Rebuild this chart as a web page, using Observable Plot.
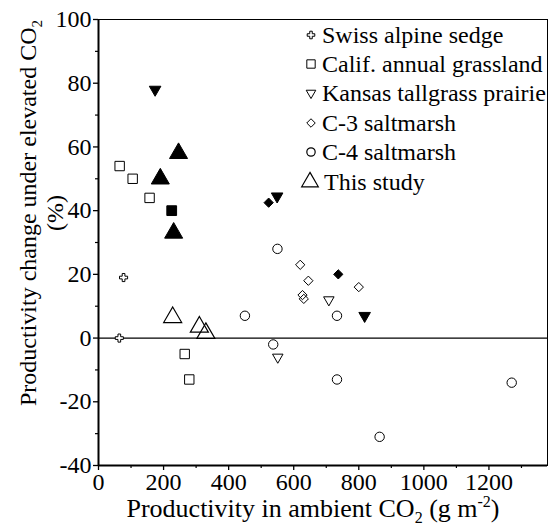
<!DOCTYPE html>
<html><head><meta charset="utf-8">
<script src="https://cdn.jsdelivr.net/npm/d3@7"></script>
<script src="https://cdn.jsdelivr.net/npm/@observablehq/plot@0.6"></script>
<style>
html,body{margin:0;padding:0;background:#fff;}
#chart{width:550px;height:530px;}
</style></head><body><div id="chart"></div>
<script>
// ---- data (x: productivity in ambient CO2, g m-2; y: % change under elevated CO2)
const swissX = [77, 64];
const swissY = [19, 0];
const califOpenX = [65, 105, 157, 265, 279];
const califOpenY = [54, 50, 44, -5, -13];
const califFilledX = [225];
const califFilledY = [40];
const kansasOpenX = [708, 551];
const kansasOpenY = [12, -6];
const kansasFilledX = [174, 549, 818];
const kansasFilledY = [78, 44.5, 7];
const c3OpenX = [620, 645, 627, 631, 800];
const c3OpenY = [23, 18, 13.5, 12.3, 16];
const c3FilledX = [523, 737];
const c3FilledY = [42.5, 20];
const c4OpenX = [450, 550, 733, 537, 733, 864, 1270];
const c4OpenY = [7, 28, 7, -2, -13, -31, -14];
const studyFilledX = [190, 246, 231];
const studyFilledY = [50, 58, 33];
const studyOpenX = [228, 310, 330];
const studyOpenY = [6.5, 3.5, 1.5];

const legendLabels = ["Swiss alpine sedge", "Calif. annual grassland", "Kansas tallgrass prairie", "C-3 saltmarsh", "C-4 saltmarsh", "This study"];
const xTicks = [0, 200, 400, 600, 800, 1000, 1200];
const xMinor = [100, 300, 500, 700, 900, 1100, 1300];
const yTicks = [-40, -20, 0, 20, 40, 60, 80, 100];
const yMinor = [-30, -10, 10, 30, 50, 70, 90];

// ---- symbols
const triDown = {draw(ctx, size) {
  const y = -Math.sqrt(size / (Math.sqrt(3) * 3));
  ctx.moveTo(0, -2 * y);
  ctx.lineTo(-Math.sqrt(3) * y, y);
  ctx.lineTo(Math.sqrt(3) * y, y);
  ctx.closePath();
}};
const diam = {draw(ctx, size) {
  const d = Math.sqrt(size / 2);
  ctx.moveTo(0, -d); ctx.lineTo(d, 0); ctx.lineTo(0, d); ctx.lineTo(-d, 0); ctx.closePath();
}};

const pts = (xs, ys) => xs.map((x, i) => ({x, y: ys[i]}));
const FONT = "Liberation Serif";

const plot = Plot.plot({
  width: 550, height: 530,
  marginLeft: 98, marginRight: 3, marginTop: 19, marginBottom: 65,
  style: {fontFamily: FONT, fontSize: "24px", background: "#fff", color: "#000"},
  x: {domain: [0, 1380], label: null},
  y: {domain: [-40, 100], label: null},
  marks: [
    Plot.frame({stroke: "#000", strokeWidth: 1}),
    Plot.ruleX([0], {stroke: "#000", strokeWidth: 2}),
    Plot.ruleY([-40], {stroke: "#000", strokeWidth: 2}),
    Plot.ruleY([0], {stroke: "#000", strokeWidth: 1.3}),
    Plot.axisX(xTicks, {tickSize: 5, tickPadding: 2, tickFormat: d => String(d), fontSize: 24, fontFamily: FONT, strokeWidth: 1.3}),
    Plot.axisX(xMinor, {tickSize: 3, tickFormat: () => "", strokeWidth: 1.2}),
    Plot.axisY(yTicks, {tickSize: 5, tickPadding: 2, tickFormat: d => String(d), fontSize: 24, fontFamily: FONT, strokeWidth: 1.3}),
    Plot.axisY(yMinor, {tickSize: 3, tickFormat: () => "", strokeWidth: 1.2}),
    Plot.dot(pts(swissX, swissY), {x: "x", y: "y", symbol: "cross", r: 3.4, stroke: "#000", fill: "#fff", strokeWidth: 1}),
    Plot.dot(pts(califOpenX, califOpenY), {x: "x", y: "y", symbol: "square", r: 5.3, stroke: "#000", fill: "none", strokeWidth: 1}),
    Plot.dot(pts(califFilledX, califFilledY), {x: "x", y: "y", symbol: "square", r: 5.5, fill: "#000", stroke: "#000", strokeWidth: 1}),
    Plot.dot(pts(kansasOpenX, kansasOpenY), {x: "x", y: "y", symbol: triDown, r: 3.9, stroke: "#000", fill: "none", strokeWidth: 1}),
    Plot.dot(pts(kansasFilledX, kansasFilledY), {x: "x", y: "y", symbol: triDown, r: 4.3, fill: "#000", stroke: "#000", strokeWidth: 1}),
    Plot.dot(pts(c3OpenX, c3OpenY), {x: "x", y: "y", symbol: diam, r: 3.7, stroke: "#000", fill: "none", strokeWidth: 1}),
    Plot.dot(pts(c3FilledX, c3FilledY), {x: "x", y: "y", symbol: diam, r: 3.7, fill: "#000", stroke: "#000", strokeWidth: 1}),
    Plot.dot(pts(c4OpenX, c4OpenY), {x: "x", y: "y", symbol: "circle", r: 4.7, stroke: "#000", fill: "none", strokeWidth: 1}),
    Plot.dot(pts(studyFilledX, studyFilledY), {x: "x", y: "y", symbol: "triangle", r: 6.7, fill: "#000", stroke: "#000", strokeWidth: 1}),
    Plot.dot(pts(studyOpenX, studyOpenY), {x: "x", y: "y", symbol: "triangle", r: 6.7, stroke: "#000", fill: "none", strokeWidth: 1.2})
  ]
});
document.getElementById("chart").appendChild(plot);

const svg = d3.select(plot);
// ---- legend
const legendSymbols = [
  {type: d3.symbolCross, size: 32, sw: 1},
  {type: d3.symbolSquare, size: 70, sw: 1},
  {type: triDown, size: 40, sw: 1},
  {type: diam, size: 36, sw: 1},
  {type: d3.symbolCircle, size: 55, sw: 1.2},
  {type: d3.symbolTriangle, size: 120, sw: 1.2}
];
const rowY = [35, 64, 93, 123, 152, 182];
const lg = svg.append("g");
legendLabels.forEach((lab, i) => {
  const s = legendSymbols[i];
  const sx = i === 5 ? 310 : 311;
  lg.append("path").attr("d", d3.symbol().type(s.type).size(s.size)())
    .attr("transform", `translate(${sx},${rowY[i]})`)
    .attr("fill", "#fff").attr("stroke", "#000").attr("stroke-width", s.sw);
  lg.append("text").attr("x", i === 5 ? 324 : 322).attr("y", rowY[i])
    .attr("dy", "0.35em").attr("text-anchor", "start").attr("font-size", 24).attr("fill", "#000").text(lab);
});

// ---- axis titles
const xt = svg.append("text").attr("x", 313).attr("y", 517).attr("text-anchor", "middle")
  .attr("font-size", 26).attr("fill", "#000");
xt.append("tspan").text("Productivity in ambient CO");
xt.append("tspan").attr("font-size", 16).attr("dy", 6).text("2");
xt.append("tspan").attr("dy", -6).text(" (g m");
xt.append("tspan").attr("font-size", 16).attr("dy", -10).text("-2");
xt.append("tspan").attr("dy", 10).text(")");

const yt = svg.append("text").attr("transform", "translate(36,213) rotate(-90)").attr("text-anchor", "middle")
  .attr("font-size", 24).attr("fill", "#000");
yt.append("tspan").text("Productivity change under elevated CO");
yt.append("tspan").attr("font-size", 15).attr("dy", 6).text("2");
svg.append("text").attr("transform", "translate(63,213) rotate(-90)").attr("text-anchor", "middle")
  .attr("font-size", 24).attr("fill", "#000").text("(%)");

svg.selectAll("text").style("font-family", '"Liberation Serif", "Times New Roman", serif');
</script></body></html>
